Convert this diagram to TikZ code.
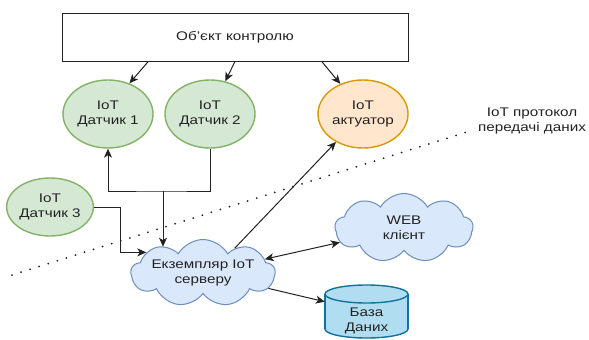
\documentclass[tikz,border=0pt]{standalone}
\usepackage{fontspec}
\setmainfont[FakeStretch=1.22]{Liberation Sans}
\usetikzlibrary{shapes.geometric,shapes.symbols,arrows.meta,calc}
\definecolor{gfill}{HTML}{D5E8D4}
\definecolor{gline}{HTML}{82B366}
\definecolor{ofill}{HTML}{FFE6CC}
\definecolor{oline}{HTML}{D79B00}
\definecolor{bfill}{HTML}{DAE8FC}
\definecolor{bline}{HTML}{6C8EBF}
\definecolor{dfill}{HTML}{B1DDF0}
\definecolor{dline}{HTML}{10739E}
\definecolor{ink}{HTML}{222222}
\begin{document}
\begin{tikzpicture}[x=1pt,y=-1pt,
  every node/.style={font=\fontsize{12.5}{14.5}\selectfont, text=ink, align=center},
  sens/.style={ellipse, draw=gline, fill=gfill, line width=1.4pt, minimum width=90pt, minimum height=68pt, inner sep=0pt},
  actu/.style={ellipse, draw=oline, fill=ofill, line width=1.4pt, minimum width=90pt, minimum height=68pt, inner sep=0pt},
  cld/.style={cloud, cloud puffs=9, cloud puff arc=120, cloud ignores aspect, draw=bline, fill=bfill, line width=1pt, inner sep=0pt},
  conn/.style={draw=ink, line width=1pt, -{Stealth[length=9pt,width=8pt,inset=2.5pt]}},
  dconn/.style={draw=ink, line width=1pt, {Stealth[length=9pt,width=8pt,inset=2.5pt]}-{Stealth[length=9pt,width=8pt,inset=2.5pt]}},
  dbshape/.style={fill=dfill, draw=dline, line width=1.4pt}
]
\useasboundingbox (0,0) rectangle (589,340);
\fill[white] (0,0) rectangle (589,340);

% object
\node[draw=ink, line width=1pt, minimum width=346pt, minimum height=48pt, inner sep=0pt] (obj) at (235,37) {Об'єкт контролю};

% sensors and actuator
\node[sens] (s1) at (108,114) {IoT\\Датчик 1};
\node[sens] (s2) at (210,114) {IoT\\Датчик 2};
\node[actu] (act) at (363,114) {IoT\\актуатор};
\node[sens, minimum width=76pt, minimum height=58pt] (s3) at (50,207) {IoT\\Датчик 3};

% clouds
\node[cld, minimum width=135pt, minimum height=67pt] (srv) at (203,273) {Екземпляр IoT\\серверу};
\node[cld, minimum width=138pt, minimum height=69pt] (web) at (404,228) {WEB\\клієнт};

% database cylinder
\node[minimum width=83pt, minimum height=54pt, inner sep=0pt] (db) at (366.5,311.5) {};
\path[dbshape] (366.5,329) ellipse [x radius=41.5, y radius=9];
\fill[dfill] (325,294) rectangle (408,329);
\draw[dline, line width=1.4pt] (325,294) -- (325,329) (408,294) -- (408,329);
\path[dbshape] (366.5,294) ellipse [x radius=41.5, y radius=9];
\node at (366.5,321) {База\\Даних};

% protocol line
\coordinate (pA) at (12,275);
\coordinate (pB) at (467,132);
\draw[ink, line width=2pt, line cap=round, dash pattern=on 0pt off 9.5pt] (pA) -- (pB);
\node (plab) at (532,121) {IoT протокол\\передачі даних};

% arrows from object
\draw[conn] ($(obj.south west)!0.25!(obj.south east)$) -- (s1.55);
\draw[conn] ($(obj.south west)!0.5!(obj.south east)$) -- (s2.65);
\draw[conn] ($(obj.south west)!0.75!(obj.south east)$) -- (act.127);

% sensor bus
\coordinate (j) at (163,191);
\draw[conn] (s2.south) |- (j) -| (s1.south);
\draw[conn] (j) -- (j |- srv.150);
\draw[conn] (s3.east) -- ++(26,0) |- (srv.160);

% server links
\draw[conn] (srv.38) -- (act.226);
\draw[dconn] (srv) -- (web);
\draw[conn] (srv) -- (db);
\end{tikzpicture}
\end{document}
